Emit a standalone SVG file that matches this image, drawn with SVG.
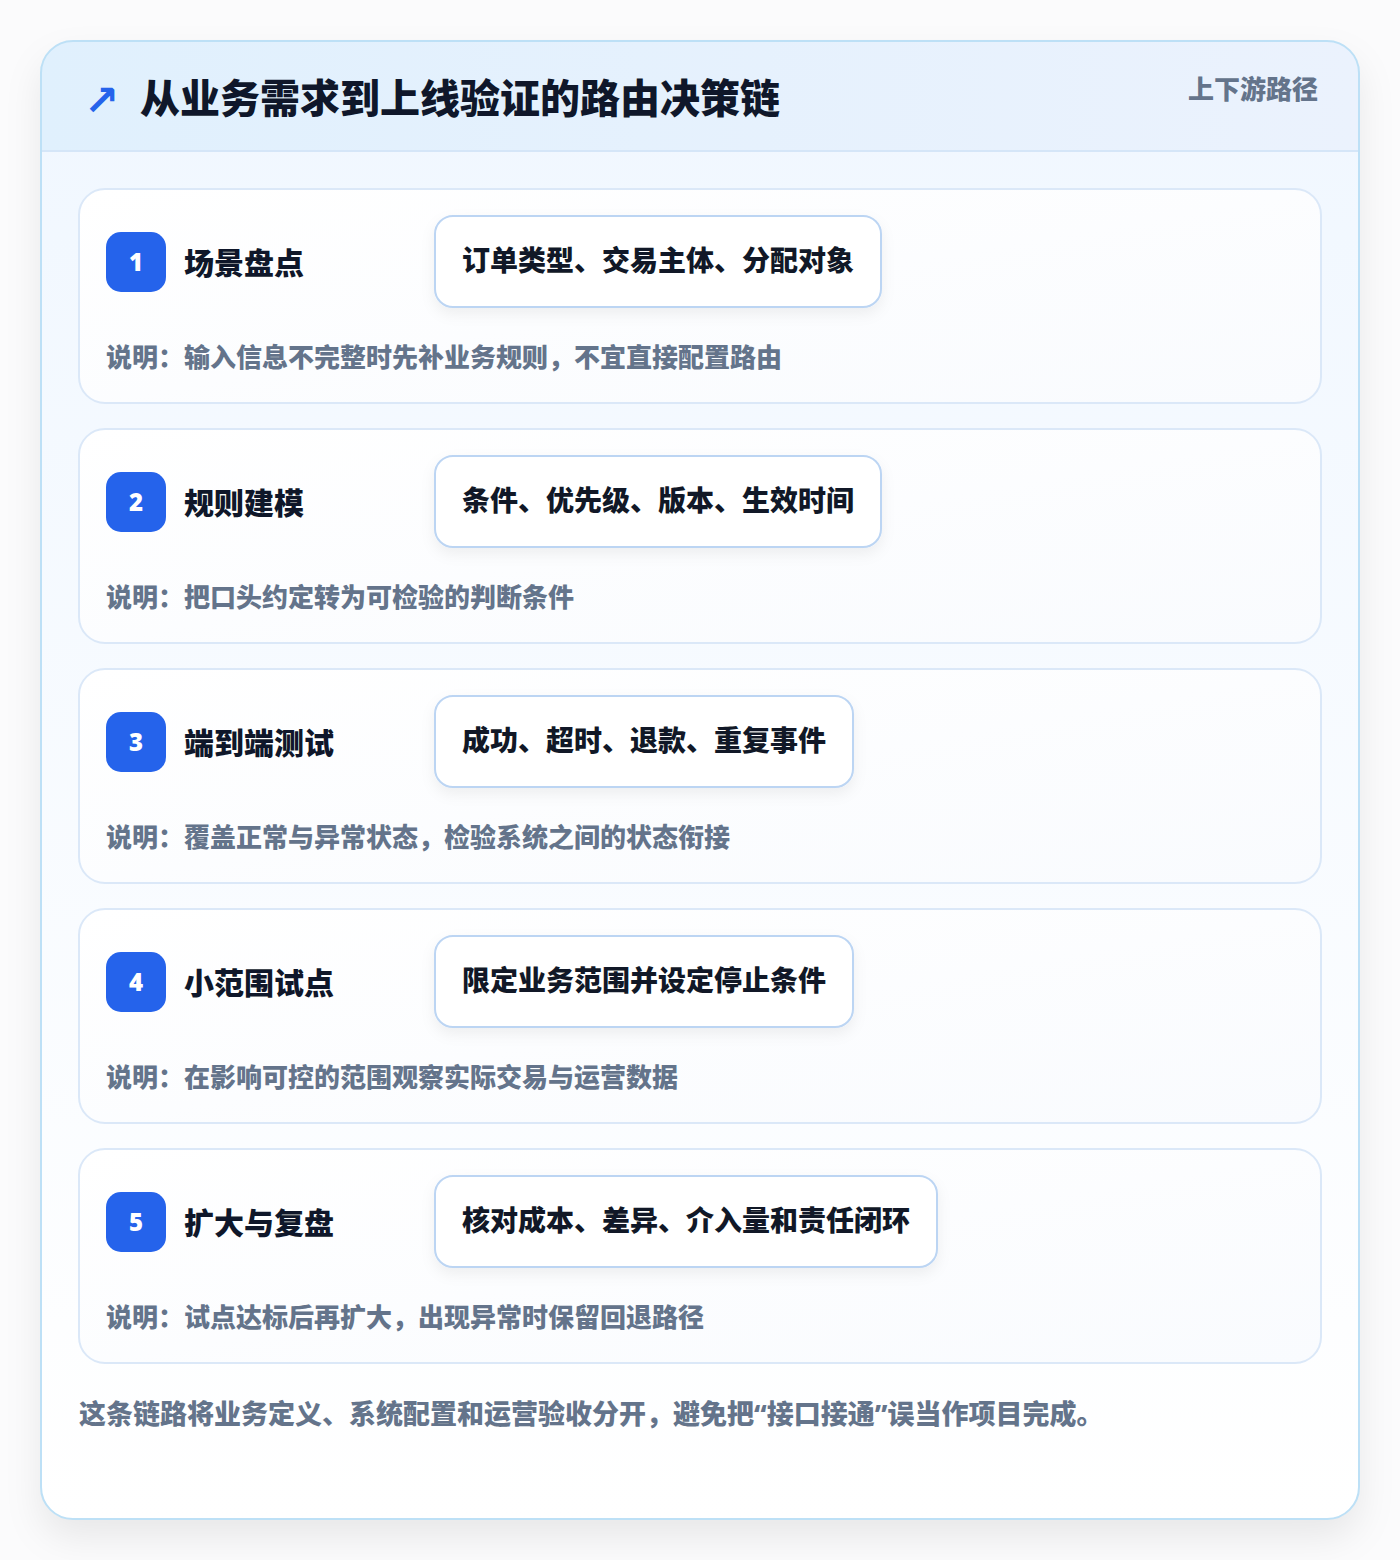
<svg xmlns="http://www.w3.org/2000/svg" width="1400" height="1560" viewBox="0 0 1400 1560">
<defs>
<style>
text{font-family:"Noto Sans","Noto Sans CJK SC",sans-serif;font-weight:800}
.title{font-size:40px;fill:#0f172a}
.tag{font-size:26px;fill:#64748b}
.card{fill:url(#cardg);stroke:#dbe8f8;stroke-width:2}
.badge{fill:#2563eb}
.num{font-size:24px;fill:#ffffff;text-anchor:middle;font-weight:900}
.ctitle{font-size:30px;fill:#0f172a}
.pill{fill:#ffffff;stroke:#bcd5f3;stroke-width:2}
.ptext{font-size:28px;fill:#111827}
.desc{font-size:26px;fill:#64748b}
.foot{font-size:27px;fill:#64748b}
</style>
<linearGradient id="bodyg" x1="0" y1="0" x2="0" y2="1">
<stop offset="0" stop-color="#f0f7ff"/>
<stop offset="1" stop-color="#ffffff"/>
</linearGradient>
<linearGradient id="headg" x1="0" y1="0" x2="1" y2="0">
<stop offset="0" stop-color="#e0f0fd"/>
<stop offset="1" stop-color="#ebf2fd"/>
</linearGradient>
<linearGradient id="cardg" x1="0" y1="0" x2="1" y2="1">
<stop offset="0" stop-color="#ffffff"/>
<stop offset="1" stop-color="#f9fbfe"/>
</linearGradient>
<clipPath id="outerclip"><rect x="41" y="41" width="1318" height="1478" rx="32"/></clipPath>
<filter id="shadow" x="-10%" y="-10%" width="120%" height="120%">
<feDropShadow dx="0" dy="18" stdDeviation="18" flood-color="#0f172a" flood-opacity="0.08"/>
</filter>
<filter id="pshadow" x="-10%" y="-30%" width="120%" height="160%">
<feDropShadow dx="0" dy="6" stdDeviation="7" flood-color="#0f172a" flood-opacity="0.06"/>
</filter>
</defs>
<rect x="0" y="0" width="1400" height="1560" fill="#fbfbfc"/>
<g id="frame">
<rect x="41" y="41" width="1318" height="1478" rx="32" fill="url(#bodyg)" filter="url(#shadow)"/>
<g clip-path="url(#outerclip)">
<rect x="41" y="41" width="1318" height="110" fill="url(#headg)"/>
<line x1="41" y1="151" x2="1359" y2="151" stroke="#d5e6f8" stroke-width="2"/>
</g>
<rect x="41" y="41" width="1318" height="1478" rx="32" fill="none" stroke="#bde0f6" stroke-width="2"/>
</g>
<g id="header">
<text x="84" y="115" style="font-size:42px;fill:#2563eb;font-family:'DejaVu Sans',sans-serif;font-weight:700">↗</text>
<text class="title" x="140" y="113">从业务需求到上线验证的路由决策链</text>
<text class="tag" x="1318" y="99" text-anchor="end">上下游路径</text>
</g>
<g id="connectors"></g>
<g id="step1">
<rect class="card" x="79" y="189" width="1242" height="214" rx="26"/>
<rect class="badge" x="106" y="232" width="60" height="60" rx="15"/>
<text class="num" x="136" y="271">1</text>
<text class="ctitle" x="184" y="274">场景盘点</text>
<rect class="pill" x="435" y="216" width="446" height="91" rx="18" filter="url(#pshadow)"/>
<text class="ptext" x="462" y="271">订单类型、交易主体、分配对象</text>
<text class="desc" x="106" y="367">说明：输入信息不完整时先补业务规则，不宜直接配置路由</text>
</g>
<g id="step2">
<rect class="card" x="79" y="429" width="1242" height="214" rx="26"/>
<rect class="badge" x="106" y="472" width="60" height="60" rx="15"/>
<text class="num" x="136" y="511">2</text>
<text class="ctitle" x="184" y="514">规则建模</text>
<rect class="pill" x="435" y="456" width="446" height="91" rx="18" filter="url(#pshadow)"/>
<text class="ptext" x="462" y="511">条件、优先级、版本、生效时间</text>
<text class="desc" x="106" y="607">说明：把口头约定转为可检验的判断条件</text>
</g>
<g id="step3">
<rect class="card" x="79" y="669" width="1242" height="214" rx="26"/>
<rect class="badge" x="106" y="712" width="60" height="60" rx="15"/>
<text class="num" x="136" y="751">3</text>
<text class="ctitle" x="184" y="754">端到端测试</text>
<rect class="pill" x="435" y="696" width="418" height="91" rx="18" filter="url(#pshadow)"/>
<text class="ptext" x="462" y="751">成功、超时、退款、重复事件</text>
<text class="desc" x="106" y="847">说明：覆盖正常与异常状态，检验系统之间的状态衔接</text>
</g>
<g id="step4">
<rect class="card" x="79" y="909" width="1242" height="214" rx="26"/>
<rect class="badge" x="106" y="952" width="60" height="60" rx="15"/>
<text class="num" x="136" y="991">4</text>
<text class="ctitle" x="184" y="994">小范围试点</text>
<rect class="pill" x="435" y="936" width="418" height="91" rx="18" filter="url(#pshadow)"/>
<text class="ptext" x="462" y="991">限定业务范围并设定停止条件</text>
<text class="desc" x="106" y="1087">说明：在影响可控的范围观察实际交易与运营数据</text>
</g>
<g id="step5">
<rect class="card" x="79" y="1149" width="1242" height="214" rx="26"/>
<rect class="badge" x="106" y="1192" width="60" height="60" rx="15"/>
<text class="num" x="136" y="1231">5</text>
<text class="ctitle" x="184" y="1234">扩大与复盘</text>
<rect class="pill" x="435" y="1176" width="502" height="91" rx="18" filter="url(#pshadow)"/>
<text class="ptext" x="462" y="1231">核对成本、差异、介入量和责任闭环</text>
<text class="desc" x="106" y="1327">说明：试点达标后再扩大，出现异常时保留回退路径</text>
</g>
<g id="footer">
<text class="foot" x="79" y="1424">这条链路将业务定义、系统配置和运营验收分开，避免把“接口接通”误当作项目完成。</text>
</g>
</svg>
